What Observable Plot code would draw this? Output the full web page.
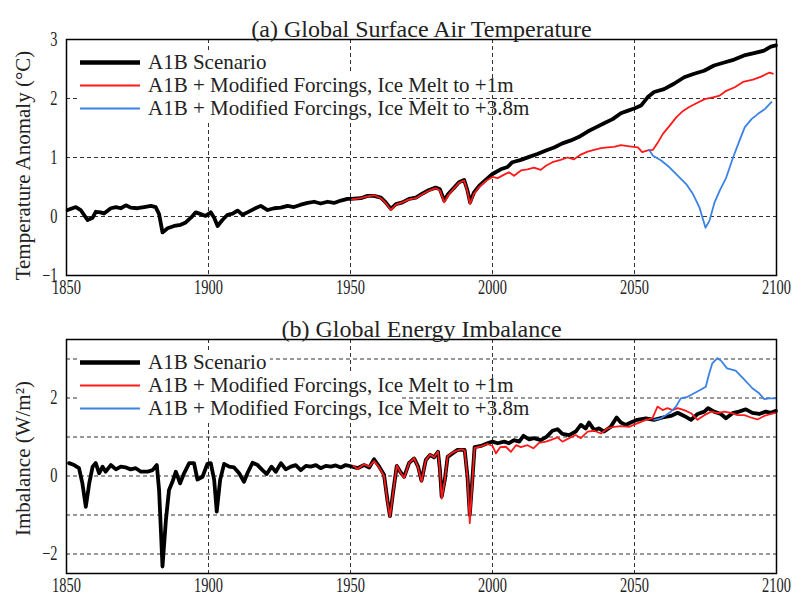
<!DOCTYPE html>
<html><head><meta charset="utf-8">
<script src="https://cdn.jsdelivr.net/npm/d3@7"></script>
<script src="https://cdn.jsdelivr.net/npm/@observablehq/plot@0.6"></script>
<style>
body{margin:0;background:#fff;}
#wrap{position:relative;width:796px;height:599px;overflow:hidden;}
#wrap svg{display:block;}
.legend{position:absolute;left:80px;font-family:"Liberation Serif",serif;font-size:21px;color:#222;line-height:1;}
.row{height:23px;display:flex;align-items:center;white-space:nowrap;}
.row svg{margin-right:8px;}
.mask{position:absolute;background:#fff;}
</style></head>
<body><div id="wrap"></div>
<script>
// ---------- x axis ----------
const xTicks = [1850, 1900, 1950, 2000, 2050, 2100];
const xGrid = [1900, 1950, 2000, 2050];

// ---------- (a) Global Surface Air Temperature ----------
const tempTicks = [-1, 0, 1, 2, 3];
const tempGrid = [0, 1, 2];
const tempYearsA1B = [1850.4,1853.3,1855,1857.4,1859.2,1860.3,1862,1863.2,1865.6,1867.4,1869.1,1870.9,1872.6,1875,1877.3,1879.7,1881.4,1882.6,1883.8,1885.6,1887.9,1890.2,1892,1893.8,1895.5,1897.3,1899,1900.8,1902,1903.2,1904.9,1906.7,1908.5,1910.2,1912,1913.7,1916.1,1918.4,1920.8,1923.1,1925.5,1927.8,1930.1,1932.5,1934.9,1937.2,1939.5,1941.9,1944.2,1946.6,1948.9,1950.1,1953.6,1956,1958.3,1960.7,1962.4,1964.2,1966,1968.3,1970.6,1973,1975.4,1977.7,1980,1981.5,1983,1984.4,1986.5,1988.2,1990,1991.2,1992.1,1993.5,1995.3,1997.6,2000,2002.9,2005.3,2007,2010,2012.9,2015.8,2018.8,2021.7,2024.6,2027.6,2030.5,2033.5,2036.4,2039.3,2042.3,2045.2,2047.5,2049.9,2052.3,2054.6,2056.9,2060.4,2063.9,2067.5,2071,2074.5,2078,2081.6,2085.1,2088.6,2092.1,2095.6,2098,2099.8];
const tempA1B = [0.11,0.16,0.11,-0.06,-0.02,0.08,0.07,0.05,0.14,0.16,0.14,0.19,0.15,0.14,0.16,0.18,0.16,0.04,-0.27,-0.20,-0.16,-0.14,-0.10,-0.02,0.07,0.04,0.01,0.07,-0.02,-0.16,-0.06,0.03,0.05,0.10,0.03,0.07,0.13,0.18,0.11,0.14,0.15,0.18,0.16,0.20,0.23,0.25,0.22,0.25,0.23,0.27,0.30,0.30,0.31,0.35,0.35,0.32,0.24,0.13,0.21,0.24,0.30,0.32,0.39,0.45,0.49,0.46,0.27,0.38,0.49,0.58,0.62,0.44,0.24,0.41,0.52,0.62,0.72,0.80,0.84,0.92,0.96,1.01,1.06,1.12,1.17,1.24,1.29,1.35,1.44,1.51,1.58,1.65,1.75,1.79,1.83,1.88,2.02,2.11,2.16,2.25,2.36,2.42,2.47,2.56,2.61,2.66,2.73,2.77,2.81,2.88,2.90];
const tempYearsMelt1 = [1950.5,1953.6,1956,1958.3,1960.7,1962.4,1964.2,1966,1968.3,1970.6,1973,1975.4,1977.7,1980,1981.5,1983,1984.4,1986.5,1988.2,1990,1991.2,1992.1,1993.5,1995.3,1997.6,2000,2001.8,2004.1,2005.8,2007.6,2010,2012.3,2014.6,2017,2018.8,2021.1,2024,2026.4,2028.7,2031.1,2033.5,2035.8,2038.2,2040.5,2042.8,2045.2,2048.3,2051.2,2052.7,2054.7,2056.5,2058.3,2060,2062.4,2064.7,2067.1,2069.4,2071.8,2074.7,2077.6,2080,2082.3,2085.3,2088.2,2091.7,2094.6,2097.5,2098.7];
const tempMelt1 = [0.29,0.31,0.34,0.36,0.31,0.23,0.11,0.20,0.24,0.29,0.31,0.38,0.44,0.48,0.44,0.24,0.36,0.48,0.57,0.61,0.42,0.21,0.39,0.50,0.60,0.67,0.65,0.71,0.75,0.69,0.78,0.80,0.83,0.79,0.86,0.92,0.96,1.00,0.97,1.05,1.10,1.13,1.16,1.17,1.18,1.21,1.19,1.17,1.09,1.12,1.13,1.26,1.40,1.54,1.68,1.79,1.86,1.92,1.99,2.02,2.05,2.13,2.19,2.28,2.32,2.37,2.44,2.42];
const tempYearsMelt38 = [2055.1,2056.5,2059.4,2062.4,2065.3,2068.2,2070.6,2072.9,2075,2076.4,2078.2,2080,2082.3,2084.7,2087,2088.8,2091.2,2093.5,2095.9,2098.2];
const tempMelt38 = [1.13,1.03,0.95,0.83,0.69,0.55,0.38,0.15,-0.19,-0.07,0.24,0.44,0.66,1.00,1.29,1.51,1.65,1.74,1.82,1.94];

// ---------- (b) Global Energy Imbalance ----------
const imbTicks = [-2, 0, 2];
const imbGrid = [-2, -1, 0, 1, 2, 3];
const imbYearsA1B = [1850.9,1852.7,1854.4,1855.6,1856.8,1858,1859.2,1860.3,1861.5,1862.7,1863.8,1865.6,1867.4,1869.1,1870.9,1872.6,1874.4,1876.2,1878.5,1880.3,1881.8,1882.6,1883.8,1885,1886.1,1887.3,1888.5,1890,1891.4,1893.2,1894.9,1896.1,1897.9,1899.6,1900.8,1902,1902.9,1904.1,1905.5,1907.3,1909,1910.8,1912.5,1913.7,1915.5,1917.3,1919,1920.5,1922.2,1923.7,1925.5,1927.2,1929,1930.7,1932.5,1934.3,1936,1937.8,1939.5,1941.3,1943.1,1944.8,1946.6,1948.3,1950.1,1952.5,1954.8,1956.6,1958.3,1960.1,1961.8,1963,1963.9,1965.1,1966.3,1967.5,1968.9,1970.6,1972.4,1973.8,1975,1976.5,1978,1979.4,1980.8,1981.5,1982.1,1983.2,1984.2,1985.9,1987.7,1989.1,1990.2,1991.2,1992,1992.9,1993.7,1995.9,1998.2,2000,2001.8,2004.1,2005.8,2007.6,2009.4,2010.9,2012.9,2014.6,2017,2019.1,2021.1,2022.9,2024.6,2027,2029.3,2031.1,2032.8,2034,2035.8,2037.5,2039.3,2041.6,2043.7,2045.2,2046.9,2048.7,2051,2054,2056.9,2059.9,2062.8,2065.2,2067.5,2069.9,2072.2,2074.6,2075.9,2078,2080.4,2082.2,2084.5,2086.8,2089.2,2091.5,2093.9,2096.2,2098,2099.8];
const imbA1B = [0.33,0.28,0.20,-0.19,-0.79,-0.19,0.24,0.33,0.07,0.24,0.11,0.28,0.17,0.24,0.22,0.17,0.20,0.11,0.11,0.15,0.28,-0.36,-2.32,-1.13,-0.36,-0.15,0.11,-0.19,0.07,0.33,0.33,-0.09,-0.02,0.31,0.33,-0.10,-0.91,-0.10,0.31,0.24,0.22,0.07,-0.15,0.07,0.34,0.28,0.15,0.05,0.24,0.11,0.33,0.17,0.24,0.28,0.15,0.26,0.24,0.28,0.20,0.26,0.24,0.27,0.22,0.28,0.25,0.20,0.28,0.22,0.43,0.24,0.03,-0.62,-1.03,-0.36,0.26,0.11,-0.02,0.33,0.45,0.24,-0.12,0.41,0.54,0.48,0.62,0.15,-0.53,-0.10,0.49,0.58,0.67,0.67,0.67,-0.02,-1.0,-0.10,0.74,0.77,0.84,0.88,0.84,0.88,0.84,0.92,0.88,1.03,0.94,0.97,0.92,1.01,1.16,1.20,1.08,1.05,1.14,1.31,1.22,1.37,1.18,1.22,1.14,1.26,1.50,1.37,1.31,1.37,1.44,1.48,1.44,1.50,1.54,1.62,1.54,1.44,1.59,1.65,1.74,1.65,1.59,1.48,1.61,1.65,1.71,1.62,1.59,1.65,1.62,1.67];
const imbYearsMelt1 = [1951,1952.5,1954.8,1956.6,1958.3,1960.1,1961.8,1963,1963.9,1965.1,1966.3,1967.5,1968.9,1970.6,1972.4,1973.8,1975,1976.5,1978,1979.4,1980.8,1981.5,1982.1,1983.2,1984.2,1985.9,1987.7,1989.1,1990.2,1991.2,1992,1992.9,1993.7,1995.9,1998.2,2000,2001.2,2002.7,2004.7,2006.5,2008.3,2010,2012.3,2014.4,2016.4,2018.8,2021.1,2022.9,2024.6,2027,2029.3,2031.1,2033.5,2035.8,2038.2,2040.5,2042.8,2045.2,2048.1,2051,2054,2056.3,2058.1,2059.9,2061.6,2063.4,2065.2,2067.5,2069.9,2072.2,2074.6,2077,2079.3,2081.6,2084,2086.3,2088.7,2091,2093.3,2095.7,2098,2099.8];
const imbMelt1 = [0.26,0.18,0.30,0.24,0.38,0.22,0.0,-0.65,-1.05,-0.38,0.27,0.10,-0.05,0.33,0.46,0.22,-0.15,0.40,0.55,0.48,0.63,0.12,-0.58,-0.12,0.50,0.60,0.66,0.68,0.66,-0.05,-1.21,-0.15,0.72,0.76,0.82,0.77,0.58,0.74,0.75,0.62,0.79,0.74,0.79,0.71,0.85,0.88,0.94,0.99,0.88,0.97,1.05,0.97,1.14,1.16,1.09,1.22,1.26,1.28,1.26,1.35,1.44,1.48,1.78,1.69,1.74,1.69,1.74,1.69,1.61,1.44,1.56,1.65,1.61,1.65,1.62,1.56,1.56,1.50,1.45,1.54,1.59,1.62];
const imbYearsMelt38 = [2056.9,2059.3,2061,2062.8,2064.6,2066.3,2068.7,2071,2073.3,2075.1,2076.3,2077.4,2079.2,2080.4,2082.6,2085.6,2088.6,2091.5,2093.9,2095.7,2097.4,2099.8];
const imbMelt38 = [1.44,1.48,1.56,1.65,1.78,1.99,2.03,2.12,2.21,2.29,2.63,2.89,3.02,2.96,2.76,2.70,2.48,2.25,2.12,1.97,1.99,1.99];

const seriesNames = ["A1B Scenario", "A1B + Modified Forcings, Ice Melt to +1m", "A1B + Modified Forcings, Ice Melt to +3.8m"];
const seriesColors = ["#000000", "#ff1a1a", "#3b82e6"];
const seriesWidths = [3.8, 1.8, 1.8];

const toRows = (xs, ys) => xs.map((x, i) => ({year: x, value: ys[i]}));
const intFmt = d3.format("d");

function panel(o) {
  const s = [toRows(...o.a1b), toRows(...o.m1), toRows(...o.m38)];
  return Plot.plot({
    width: 796, height: o.height,
    marginLeft: 66, marginRight: 20, marginTop: o.marginTop, marginBottom: o.marginBottom,
    x: {domain: [1850, 2100], label: null},
    y: {domain: o.yDomain, label: null},
    style: {fontFamily: "'Liberation Serif', 'Times New Roman', serif", fontSize: "20px", color: "#222", background: "white", overflow: "visible"},
    marks: [
      Plot.ruleY(o.grid, {stroke: "#333", strokeWidth: 1, strokeDasharray: "4,3"}),
      Plot.ruleX(xGrid, {stroke: "#333", strokeWidth: 1, strokeDasharray: "4,3"}),
      ...s.map((d, i) => Plot.line(d, {x: "year", y: "value", stroke: seriesColors[i], strokeWidth: seriesWidths[i], strokeLinejoin: "round"})),
      Plot.axisX({ticks: xTicks, tickFormat: intFmt, tickSize: 0, tickPadding: 4}),
      Plot.axisY({ticks: o.ticks, tickFormat: intFmt, tickSize: 0, tickPadding: 9}),
      Plot.frame({stroke: "#000", strokeWidth: 1.5}),
      Plot.text([o.title], {text: d => d, frameAnchor: "top", dy: -20, fontSize: 24, fill: "#222"}),
      Plot.text([o.ylabel], {text: d => d, frameAnchor: "left", textAnchor: "middle", dx: -43, dy: o.ylabelDy, rotate: -90, fontSize: 21, fill: "#222"})
    ]
  });
}

const wrap = document.getElementById("wrap");
const p1 = panel({
  height: 300, marginTop: 39, marginBottom: 25, yDomain: [-1, 3], ticks: tempTicks, grid: tempGrid,
  a1b: [tempYearsA1B, tempA1B], m1: [tempYearsMelt1, tempMelt1], m38: [tempYearsMelt38, tempMelt38],
  title: "(a) Global Surface Air Temperature", ylabel: "Temperature Anomaly (°C)", ylabelDy: 8
});
const p2 = panel({
  height: 299, marginTop: 39, marginBottom: 26, yDomain: [-2.5, 3.5], ticks: imbTicks, grid: imbGrid,
  a1b: [imbYearsA1B, imbA1B], m1: [imbYearsMelt1, imbMelt1], m38: [imbYearsMelt38, imbMelt38],
  title: "(b) Global Energy Imbalance", ylabel: "Imbalance (W/m²)", ylabelDy: 2
});
wrap.appendChild(p1);
wrap.appendChild(p2);

// condensed tick labels, as in the original figure
for (const svg of [p1, p2]) {
  svg.querySelectorAll('g[aria-label="x-axis tick label"] text, g[aria-label="y-axis tick label"] text').forEach(t => {
    const L = t.getComputedTextLength();
    t.setAttribute("textLength", (L * 0.72).toFixed(1));
    t.setAttribute("lengthAdjust", "spacingAndGlyphs");
  });
}

// legends (with the partial white backing box of the original)
function legend(top) {
  const m1 = document.createElement("div");
  m1.className = "mask";
  Object.assign(m1.style, {left: "78px", top: top + "px", width: "192px", height: "23px"});
  const m2 = document.createElement("div");
  m2.className = "mask";
  Object.assign(m2.style, {left: "78px", top: (top + 23) + "px", width: "322px", height: "46px"});
  wrap.appendChild(m1);
  wrap.appendChild(m2);
  const div = document.createElement("div");
  div.className = "legend";
  div.style.top = top + "px";
  seriesNames.forEach((name, i) => {
    const row = document.createElement("div");
    row.className = "row";
    const sw = d3.create("svg").attr("width", 60).attr("height", 23);
    sw.append("line").attr("x1", 0).attr("x2", 60).attr("y1", 11.5).attr("y2", 11.5)
      .attr("stroke", seriesColors[i]).attr("stroke-width", i === 0 ? 4.5 : 2);
    row.appendChild(sw.node());
    row.appendChild(document.createTextNode(name));
    div.appendChild(row);
  });
  wrap.appendChild(div);
}
legend(51);
legend(351);
</script>
</body></html>
